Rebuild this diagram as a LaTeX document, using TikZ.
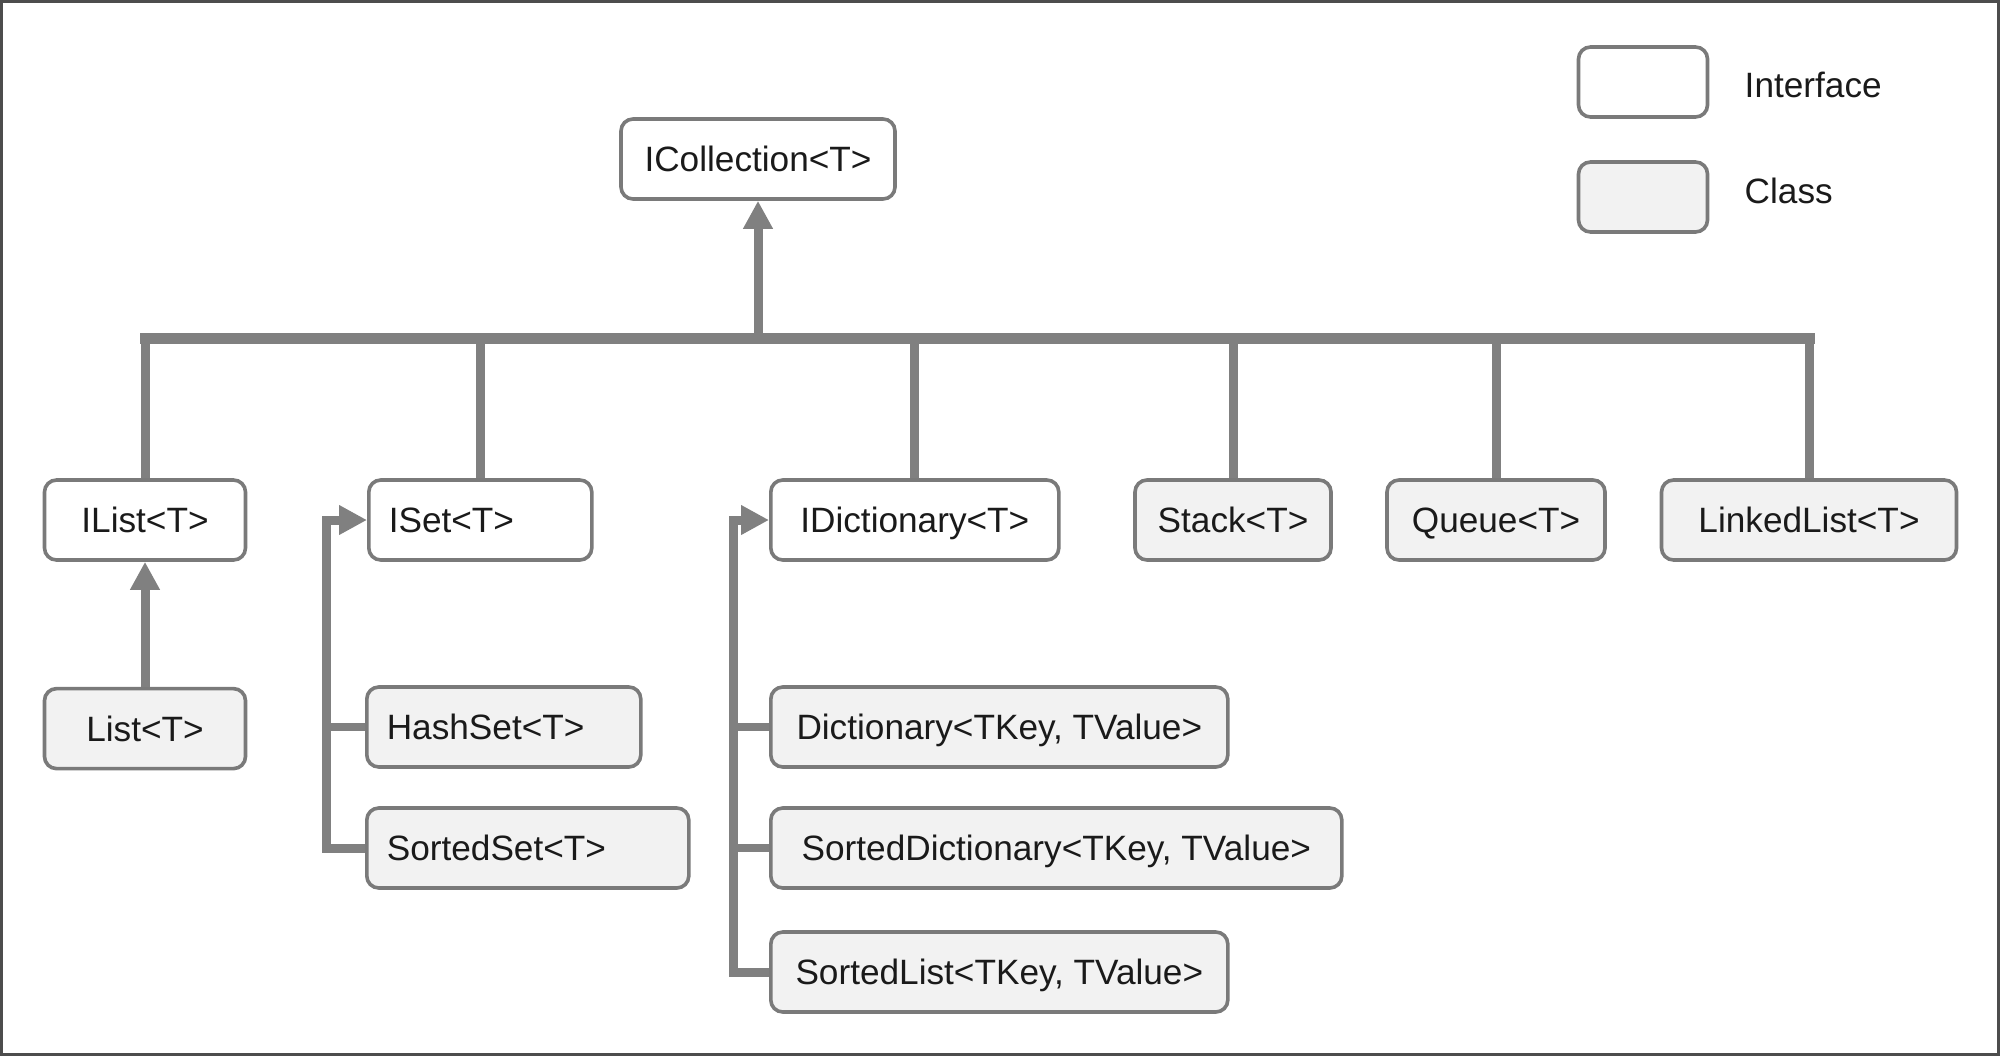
\documentclass[tikz,border=0pt]{standalone}
\usepackage{fontspec}
\setmainfont{Liberation Sans}
\usepackage{tikz}
\usetikzlibrary{arrows.meta, positioning, calc}
\definecolor{linegray}{HTML}{808080}
\definecolor{boxgray}{HTML}{7A7A7A}
\definecolor{classfill}{HTML}{F2F2F2}
\definecolor{textdark}{HTML}{1A1A1A}
\definecolor{framegray}{HTML}{4D4D4D}
\tikzset{%
	iface/.style={draw=boxgray, line width=1.8pt, rectangle, rounded corners=6pt,%
		minimum height=40pt, text height=12.6pt, text depth=0pt, fill=white,%
		text=textdark, font=\fontsize{17.6}{21}\selectfont},
	klass/.style={iface, fill=classfill},
	lefttext/.style={text width=#1, align=left, inner xsep=10pt},
	bus/.style={draw=linegray, line width=5.5pt, line cap=rect},
	drop/.style={draw=linegray, line width=4.5pt},
	inh/.style={draw=linegray, line width=4.5pt, -{Triangle[length=14pt, width=14pt]}},
	stub/.style={draw=linegray, line width=4pt},
	legendtext/.style={inner sep=0pt, text=textdark, font=\fontsize{17.6}{21}\selectfont},
	frame/.style={draw=framegray, line width=1.5pt}
}

\begin{document}
\begin{tikzpicture}[x=0.5pt, y=-0.5pt]
	\useasboundingbox (0,0) rectangle (2000,1056);
	\draw[frame] (1.5,1.5) rectangle (1998.5,1054.5);

	\node[iface, minimum width=137pt] (icoll) at (758,159) {ICollection<T>};
	\node[iface, minimum width=100.5pt] (ilist) at (145,520) {IList<T>};
	\node[iface, lefttext=91.5pt, anchor=west] (iset) at (367,520) {ISet<T>};
	\node[iface, minimum width=144pt, anchor=west] (idict) at (769,520) {IDictionary<T>};
	\node[klass, minimum width=98pt] (stack) at (1233,520) {Stack<T>};
	\node[klass, minimum width=109pt] (queue) at (1496,520) {Queue<T>};
	\node[klass, minimum width=147.5pt] (linkedlist) at (1809,520) {LinkedList<T>};

	\node[klass, minimum width=100.5pt, below=62.5pt of ilist] (list) {List<T>};
	\node[klass, lefttext=117pt, anchor=west] (hashset) at (365,727) {HashSet<T>};
	\node[klass, lefttext=141pt, anchor=west] (sortedset) at (365,848) {SortedSet<T>};
	\node[klass, minimum width=228.5pt, anchor=west] (dictionary) at (769,727) {Dictionary<TKey, TValue>};
	\node[klass, minimum width=285.5pt, anchor=west] (sorteddict) at (769,848) {SortedDictionary<TKey, TValue>};
	\node[klass, minimum width=228.5pt, anchor=west] (sortedlist) at (769,972) {SortedList<TKey, TValue>};

	% legend
	\node[iface, minimum width=64.5pt, minimum height=35pt] (ifacekey) at (1643,82) {};
	\node[klass, minimum width=64.5pt, minimum height=35pt] (classkey) at (1643,197) {};
	\node[legendtext, right=17.5pt of ifacekey, yshift=-1.5pt] (ifacelabel) {Interface};
	\node[legendtext, right=17.5pt of classkey, yshift=3pt] (classlabel) {Class};

	% ICollection bus
	\coordinate (hub) at (758,338);
	\draw[bus] (ilist.north |- hub) -- (linkedlist.north |- hub);
	\foreach \nd in {ilist, iset, idict, stack, queue, linkedlist}
		\draw[drop] (\nd.north |- hub) -- (\nd.north);
	\draw[inh] (hub) -- (icoll.south);
	\draw[inh] (list.north) -- (ilist.south);

	% set rail
	\coordinate (setbend) at (326,520);
	\draw[inh] (sortedset.west) -| (setbend) -- (iset.west);
	\draw[stub] (hashset.west) -- (hashset.west -| setbend);

	% dictionary rail
	\coordinate (dictbend) at (733,520);
	\draw[inh] (sortedlist.west) -| (dictbend) -- (idict.west);
	\draw[stub] (dictionary.west) -- (dictionary.west -| dictbend);
	\draw[stub] (sorteddict.west) -- (sorteddict.west -| dictbend);
\end{tikzpicture}
\end{document}
